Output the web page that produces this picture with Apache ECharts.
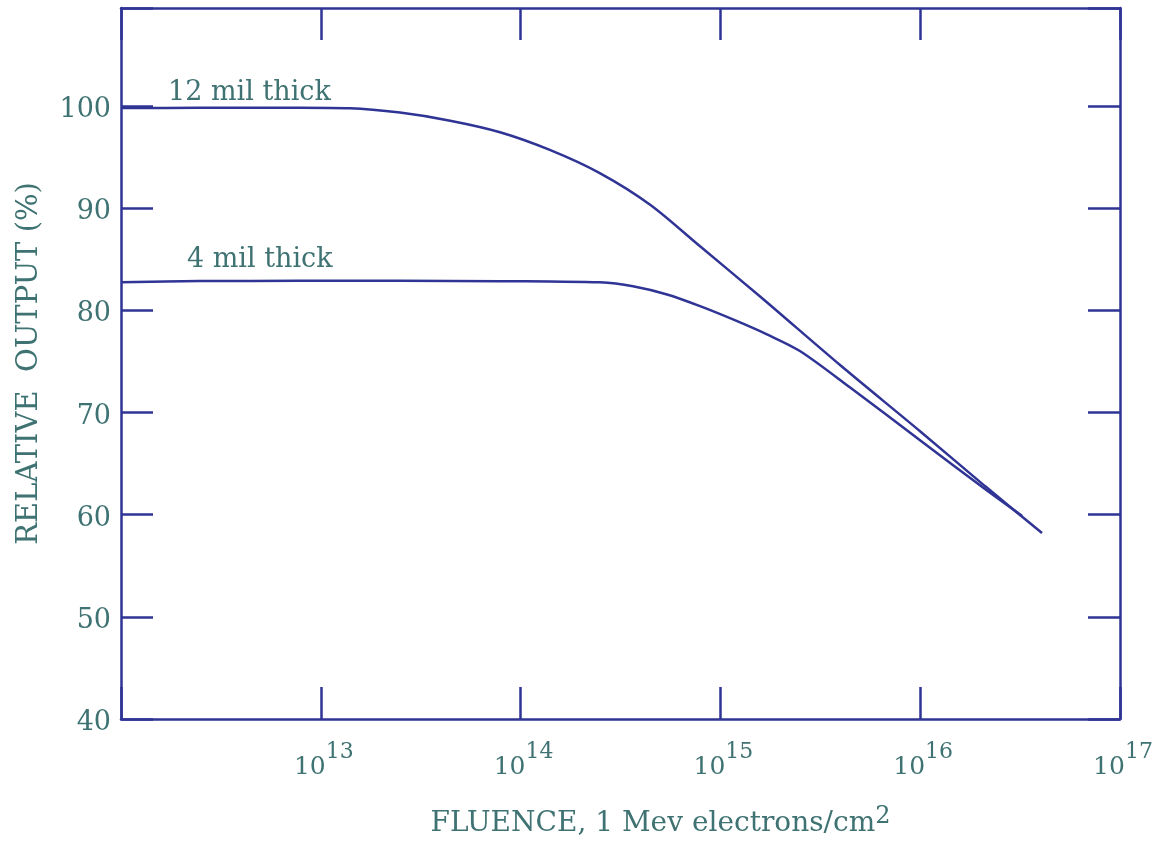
<!DOCTYPE html>
<html>
<head>
<meta charset="utf-8">
<script src="https://cdn.jsdelivr.net/npm/echarts@6/dist/echarts.min.js"></script>
<style>
html,body{margin:0;padding:0;background:#fff;}
#chart{width:1159px;height:843px;}
</style>
</head>
<body>
<div id="chart"></div>
<script>
// Fluence (1 MeV electrons/cm^2) and relative output (%)
var fluence12 = [1.0e12, 2.48e12, 7.87e12, 1.40e13, 2.49e13, 4.44e13, 7.89e13, 1.40e14, 2.49e14, 4.45e14, 7.91e14, 1.58e15, 3.97e15, 9.98e15, 2.11e16, 4.07e16];
var output12  = [99.80, 99.83, 99.84, 99.79, 99.36, 98.57, 97.44, 95.71, 93.44, 90.34, 86.27, 81.36, 74.65, 68.17, 62.80, 58.21];
var fluence4  = [1.0e12, 2.48e12, 7.87e12, 2.49e13, 7.89e13, 1.40e14, 2.49e14, 3.65e14, 5.41e14, 7.91e14, 1.156e15, 1.71e15, 2.50e15, 4.46e15, 9.98e15, 2.11e16, 3.24e16];
var output4   = [82.75, 82.87, 82.89, 82.89, 82.86, 82.82, 82.75, 82.36, 81.55, 80.41, 79.11, 77.65, 76.02, 72.44, 67.29, 62.51, 59.87];
var seriesNames = ['12 mil thick', '4 mil thick'];
var yTicks = [40, 50, 60, 70, 80, 90, 100];
var xExponents = [12, 13, 14, 15, 16, 17];

function pairs(xs, ys){ return xs.map(function(x,i){ return [x, ys[i]]; }); }

var TEXT = '#3f7272';
var LINE = '#2f3495';
var FONT = 'DejaVu Serif';

var chart = echarts.init(document.getElementById('chart'));
var axisLine = {show:true, lineStyle:{color:LINE, width:2.5}};
var tickStyle = {show:true, inside:true, length:32, lineStyle:{color:LINE, width:2.5}};

var option = {
  backgroundColor:'#fff',
  animation:false,
  grid:{left:121, right:39, top:8, bottom:122, containLabel:false},
  xAxis:[{
    type:'log', logBase:10, min:1e12, max:1e17, position:'bottom',
    axisLine:axisLine, axisTick:tickStyle, splitLine:{show:false}, minorTick:{show:false},
    axisLabel:{
      show:true, margin:22, showMinLabel:false,
      formatter:function(v){
        var e = Math.round(Math.log10(v));
        if (xExponents.indexOf(e) < 1) return '';
        return '{b|10}{s|' + e + '}';
      },
      rich:{
        b:{fontFamily:FONT, fontSize:25, color:TEXT, verticalAlign:'bottom', padding:[0,0,0,6]},
        s:{fontFamily:FONT, fontSize:22, color:TEXT, verticalAlign:'bottom', padding:[0,0,17,0]}
      }
    },
    name:'FLUENCE, 1 Mev electrons/cm{s|2}', nameLocation:'middle', nameGap:86,
    nameTextStyle:{
      fontFamily:FONT, fontSize:28, color:TEXT, padding:[0,0,0,80],
      rich:{s:{fontFamily:FONT, fontSize:24, color:TEXT, verticalAlign:'bottom', padding:[0,0,14,0]}}
    }
  },{
    type:'log', logBase:10, min:1e12, max:1e17, position:'top',
    axisLine:axisLine, axisTick:tickStyle, axisLabel:{show:false}, splitLine:{show:false}
  }],
  yAxis:[{
    type:'value', min:40, max:109.6, interval:10, position:'left',
    axisLine:axisLine, axisTick:tickStyle, splitLine:{show:false},
    axisLabel:{
      margin:10, fontFamily:FONT, fontSize:27, color:TEXT,
      formatter:function(v){ return yTicks.indexOf(v) >= 0 ? '{v|' + v + '}' : ''; },
      rich:{v:{fontFamily:FONT, fontSize:27, color:TEXT, padding:[8,0,0,0]}}
    },
    name:'RELATIVE  OUTPUT (%)', nameLocation:'middle', nameGap:77, nameRotate:90,
    nameTextStyle:{fontFamily:FONT, fontSize:29, color:TEXT}
  },{
    type:'value', min:40, max:109.6, interval:10, position:'right',
    axisLine:axisLine, axisTick:tickStyle, axisLabel:{show:false}, splitLine:{show:false}
  }],
  series:[{
    name:seriesNames[0], type:'line', xAxisIndex:0, yAxisIndex:0,
    data:pairs(fluence12, output12), showSymbol:false, symbol:'none',
    smooth:0.3,
    lineStyle:{color:LINE, width:2.5}
  },{
    name:seriesNames[1], type:'line', xAxisIndex:0, yAxisIndex:0,
    data:pairs(fluence4, output4), showSymbol:false, symbol:'none',
    smooth:0.3,
    lineStyle:{color:LINE, width:2.5}
  }],
  graphic:[
    {type:'text', left:168, top:79, style:{text:seriesNames[0], font:'27px "DejaVu Serif"', fill:TEXT}},
    {type:'text', left:187, top:246, style:{text:seriesNames[1], font:'27px "DejaVu Serif"', fill:TEXT}}
  ]
};
chart.setOption(option);
</script>
</body>
</html>
